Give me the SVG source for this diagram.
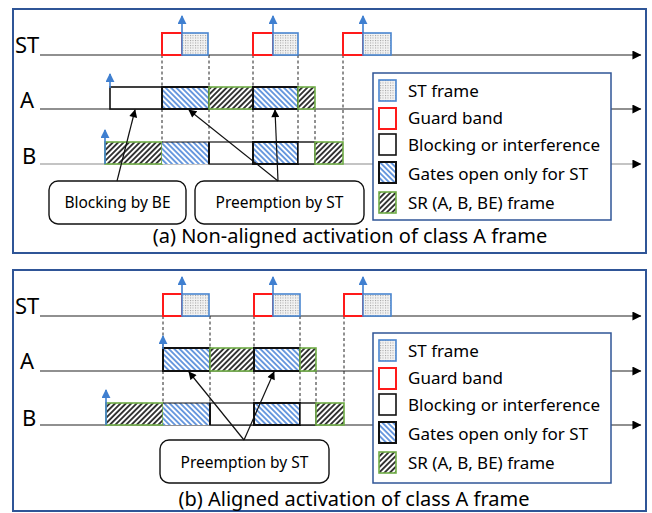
<svg xmlns="http://www.w3.org/2000/svg" width="652" height="513" viewBox="0 0 652 513">
  <style>
    .panel { fill: #ffffff; stroke: #2f5597; stroke-width: 2; }
    .legend-box { fill: #ffffff; stroke: #2f5597; stroke-width: 1.5; }
    .axis { stroke: #222; stroke-width: 1.2; fill: none; marker-end: url(#axisHead); }
    .axis-gray { stroke: #8a8a8a; }
    .row-label { font-family: "Noto Sans", "Open Sans", sans-serif; font-size: 22px; fill: #000; }
    .legend-text { font-family: "Noto Sans", "Open Sans", sans-serif; font-size: 17px; fill: #000; }
    .callout-text { font-family: "Noto Sans", "Open Sans", sans-serif; font-size: 15.5px; fill: #000; text-anchor: middle; }
    .caption { font-family: "Noto Sans", "Open Sans", sans-serif; font-size: 20px; fill: #000; text-anchor: middle; }
    .guard { fill: #ffffff; stroke: #ff1a1a; stroke-width: 2; }
    .st-frame { fill: url(#dots); stroke: #4a86d0; stroke-width: 1.6; }
    .blocking { fill: #ffffff; stroke: #111; stroke-width: 1.6; }
    .gate { fill: url(#hatchBlue); stroke: #111; stroke-width: 2; }
    .gate-plain { fill: url(#hatchBlue); stroke: none; }
    .sr { fill: url(#hatchBlack); stroke: #70ad47; stroke-width: 1.6; }
    .edge-thick { stroke: #111; stroke-width: 2; }
    .edge-thin { stroke: #111; stroke-width: 1; }
    .release { stroke: #3f7fd0; stroke-width: 1.6; fill: none; marker-end: url(#blueHead); }
    .guide { stroke: #222; stroke-width: 1; stroke-dasharray: 3 2.5; fill: none; }
    .callout { fill: #ffffff; stroke: #111; stroke-width: 1.4; }
    .pointer { stroke: #111; stroke-width: 1.2; fill: none; marker-end: url(#blackHead); }
  </style>
  <defs>
    <pattern id="dots" width="2.5" height="2.5" patternUnits="userSpaceOnUse">
      <rect width="2.5" height="2.5" fill="#f3f3f3"/>
      <rect width="1" height="1" fill="#9c9c9c"/>
    </pattern>
    <pattern id="hatchBlue" width="3.8" height="3.8" patternUnits="userSpaceOnUse" patternTransform="rotate(-45)">
      <rect width="3.8" height="3.8" fill="#ffffff"/>
      <line x1="1.9" y1="0" x2="1.9" y2="3.8" stroke="#2f72d2" stroke-width="1.4"/>
    </pattern>
    <pattern id="hatchBlack" width="3.8" height="3.8" patternUnits="userSpaceOnUse" patternTransform="rotate(45)">
      <rect width="3.8" height="3.8" fill="#ffffff"/>
      <line x1="1.9" y1="0" x2="1.9" y2="3.8" stroke="#1a1a1a" stroke-width="1.7"/>
    </pattern>
    <marker id="axisHead" viewBox="0 0 10 10" refX="9.5" refY="5" markerWidth="10" markerHeight="9" markerUnits="userSpaceOnUse" orient="auto">
      <path d="M0,0 L10,5 L0,10 z" fill="#000"/>
    </marker>
    <marker id="blueHead" viewBox="0 0 10 10" refX="9" refY="5" markerWidth="9" markerHeight="9" markerUnits="userSpaceOnUse" orient="auto">
      <path d="M0,0 L10,5 L0,10 z" fill="#3f7fd0"/>
    </marker>
    <marker id="blackHead" viewBox="0 0 10 10" refX="9" refY="5" markerWidth="9" markerHeight="8" markerUnits="userSpaceOnUse" orient="auto">
      <path d="M0,0 L10,5 L0,10 z" fill="#000"/>
    </marker>
  </defs>

  <!-- ===================== Panel (a): non-aligned activation ===================== -->
  <g id="panel-a">
    <rect class="panel" x="13" y="9" width="633" height="244"/>

    <!-- time axes -->
    <g id="a-axes">
      <text class="row-label" x="15" y="53">ST</text>
      <line class="axis" x1="40" y1="55" x2="641" y2="55"/>
      <text class="row-label" x="20" y="108">A</text>
      <line class="axis" x1="40" y1="109" x2="641" y2="109"/>
      <text class="row-label" x="22" y="164">B</text>
      <line class="axis axis-gray" x1="40" y1="164" x2="641" y2="164"/>
    </g>

    <!-- slot boundaries -->
    <g id="a-guides">
      <path class="guide" d="M162,55 V87 M162,109 V142 M209,55 V87 M209,109 V142 M253,55 V87 M253,109 V142 M298,55 V87 M298,109 V142 M315,109 V142 M343,55 V142"/>
    </g>

    <!-- ST stream -->
    <g id="a-st-1"><rect class="guard" x="162" y="33" width="20" height="22"/><rect class="st-frame" x="182" y="33" width="26" height="22"/></g>
    <g id="a-st-2"><rect class="guard" x="253" y="33" width="20" height="22"/><rect class="st-frame" x="273" y="33" width="25" height="22"/></g>
    <g id="a-st-3"><rect class="guard" x="343" y="33" width="20" height="22"/><rect class="st-frame" x="363" y="33" width="28" height="22"/></g>
    <g id="a-st-release">
      <line class="release" x1="182" y1="33" x2="182" y2="16"/>
      <line class="release" x1="273" y1="33" x2="273" y2="16"/>
      <line class="release" x1="363" y1="33" x2="363" y2="16"/>
    </g>

    <!-- class A stream -->
    <g id="a-classA">
      <rect class="blocking" x="110" y="87" width="52" height="22"/>
      <rect class="gate" x="162" y="87" width="47" height="22"/>
      <rect class="sr" x="209" y="87" width="44" height="22"/>
      <rect class="gate" x="253" y="87" width="45" height="22"/>
      <rect class="sr" x="298" y="87" width="17" height="22"/>
      <line class="release" x1="110" y1="88" x2="110" y2="74"/>
    </g>

    <!-- class B stream -->
    <g id="a-classB">
      <rect class="sr" x="105" y="142" width="57" height="22"/>
      <rect class="gate-plain" x="162" y="142" width="47" height="22"/>
      <rect class="blocking" x="209" y="142" width="44" height="22" style="stroke-width:1.2"/>
      <rect class="gate" x="253" y="142" width="45" height="22"/>
      <rect class="blocking" x="298" y="142" width="17" height="22" style="stroke-width:1.4"/>
      <rect class="sr" x="315" y="142" width="28" height="22"/>
      <line class="edge-thin" x1="162" y1="142" x2="209" y2="142"/>
      <line class="edge-thick" x1="209" y1="142" x2="209" y2="164"/>
      <line class="release" x1="105" y1="164" x2="105" y2="130"/>
    </g>

    <!-- annotations -->
    <g id="a-callout-blocking">
      <rect class="callout" x="49" y="181" width="137" height="43" rx="9"/>
      <text class="callout-text" x="117.5" y="208">Blocking by BE</text>
    </g>
    <g id="a-callout-preemption">
      <rect class="callout" x="195" y="181" width="169" height="43" rx="9"/>
      <text class="callout-text" x="279.5" y="208">Preemption by ST</text>
    </g>

    <g id="a-connectors">
      <line class="pointer" x1="117" y1="181" x2="135" y2="110"/>
      <line class="pointer" x1="278" y1="181" x2="189" y2="110"/>
      <line class="pointer" x1="278" y1="181" x2="275" y2="110"/>
    </g>

    <!-- legend -->
    <g id="a-legend">
      <rect class="legend-box" x="373" y="73" width="238" height="147"/>
      <rect class="st-frame" x="379" y="80" width="17" height="21"/>
      <text class="legend-text" x="408" y="97">ST frame</text>
      <rect class="guard" x="379" y="108" width="17" height="21"/>
      <text class="legend-text" x="408" y="124">Guard band</text>
      <rect class="blocking" x="379" y="134" width="17" height="21"/>
      <text class="legend-text" x="408" y="151">Blocking or interference</text>
      <rect class="gate" x="379" y="162" width="17" height="21"/>
      <text class="legend-text" x="408" y="180">Gates open only for ST</text>
      <rect class="sr" x="379" y="192" width="17" height="21"/>
      <text class="legend-text" x="408" y="209">SR (A, B, BE) frame</text>
    </g>

    <text class="caption" x="350" y="243">(a) Non-aligned activation of class A frame</text>
  </g>

  <!-- ===================== Panel (b): aligned activation ===================== -->
  <g id="panel-b">
    <rect class="panel" x="13" y="270" width="633" height="241"/>

    <g id="b-axes">
      <text class="row-label" x="15" y="314">ST</text>
      <line class="axis" x1="40" y1="316" x2="641" y2="316"/>
      <text class="row-label" x="20" y="369">A</text>
      <line class="axis" x1="40" y1="371" x2="641" y2="371"/>
      <text class="row-label" x="22" y="426">B</text>
      <line class="axis" x1="40" y1="425" x2="641" y2="425"/>
    </g>

    <g id="b-guides">
      <path class="guide" d="M163,316 V348 M163,371 V403 M210,316 V348 M210,371 V403 M254,316 V348 M254,371 V403 M300,316 V348 M300,371 V403 M316,371 V403 M344,316 V403"/>
    </g>

    <g id="b-st-1"><rect class="guard" x="163" y="294" width="19" height="22"/><rect class="st-frame" x="182" y="294" width="27" height="22"/></g>
    <g id="b-st-2"><rect class="guard" x="254" y="294" width="19" height="22"/><rect class="st-frame" x="273" y="294" width="27" height="22"/></g>
    <g id="b-st-3"><rect class="guard" x="344" y="294" width="19" height="22"/><rect class="st-frame" x="363" y="294" width="28" height="22"/></g>
    <g id="b-st-release">
      <line class="release" x1="182" y1="294" x2="182" y2="277"/>
      <line class="release" x1="273" y1="294" x2="273" y2="277"/>
      <line class="release" x1="363" y1="294" x2="363" y2="277"/>
    </g>

    <g id="b-classA">
      <rect class="gate" x="163" y="348" width="47" height="23"/>
      <rect class="sr" x="210" y="348" width="44" height="23"/>
      <rect class="gate" x="254" y="348" width="46" height="23"/>
      <rect class="sr" x="300" y="348" width="16" height="23"/>
      <line class="release" x1="163" y1="349" x2="163" y2="336"/>
    </g>

    <g id="b-classB">
      <rect class="sr" x="106" y="403" width="57" height="22"/>
      <rect class="gate-plain" x="163" y="403" width="47" height="22"/>
      <rect class="blocking" x="210" y="403" width="44" height="22" style="stroke-width:1.2"/>
      <rect class="gate" x="254" y="403" width="46" height="22"/>
      <rect class="blocking" x="300" y="403" width="16" height="22" style="stroke-width:1.4"/>
      <rect class="sr" x="316" y="403" width="28" height="22"/>
      <line class="edge-thin" x1="163" y1="403" x2="210" y2="403"/>
      <line class="edge-thick" x1="210" y1="403" x2="210" y2="425"/>
      <line class="release" x1="106" y1="425" x2="106" y2="390"/>
    </g>

    <g id="b-callout-preemption">
      <rect class="callout" x="160" y="440" width="169" height="43" rx="9"/>
      <text class="callout-text" x="244.5" y="468">Preemption by ST</text>
    </g>

    <g id="b-connectors">
      <line class="pointer" x1="244" y1="440" x2="189" y2="372"/>
      <line class="pointer" x1="244" y1="440" x2="274" y2="372"/>
    </g>

    <g id="b-legend">
      <rect class="legend-box" x="373" y="333" width="238" height="150"/>
      <rect class="st-frame" x="379" y="340" width="17" height="21"/>
      <text class="legend-text" x="408" y="357">ST frame</text>
      <rect class="guard" x="379" y="368" width="17" height="21"/>
      <text class="legend-text" x="408" y="384">Guard band</text>
      <rect class="blocking" x="379" y="394" width="17" height="21"/>
      <text class="legend-text" x="408" y="411">Blocking or interference</text>
      <rect class="gate" x="379" y="422" width="17" height="21"/>
      <text class="legend-text" x="408" y="440">Gates open only for ST</text>
      <rect class="sr" x="379" y="452" width="17" height="21"/>
      <text class="legend-text" x="408" y="469">SR (A, B, BE) frame</text>
    </g>

    <text class="caption" x="354" y="506">(b) Aligned activation of class A frame</text>
  </g>
</svg>
